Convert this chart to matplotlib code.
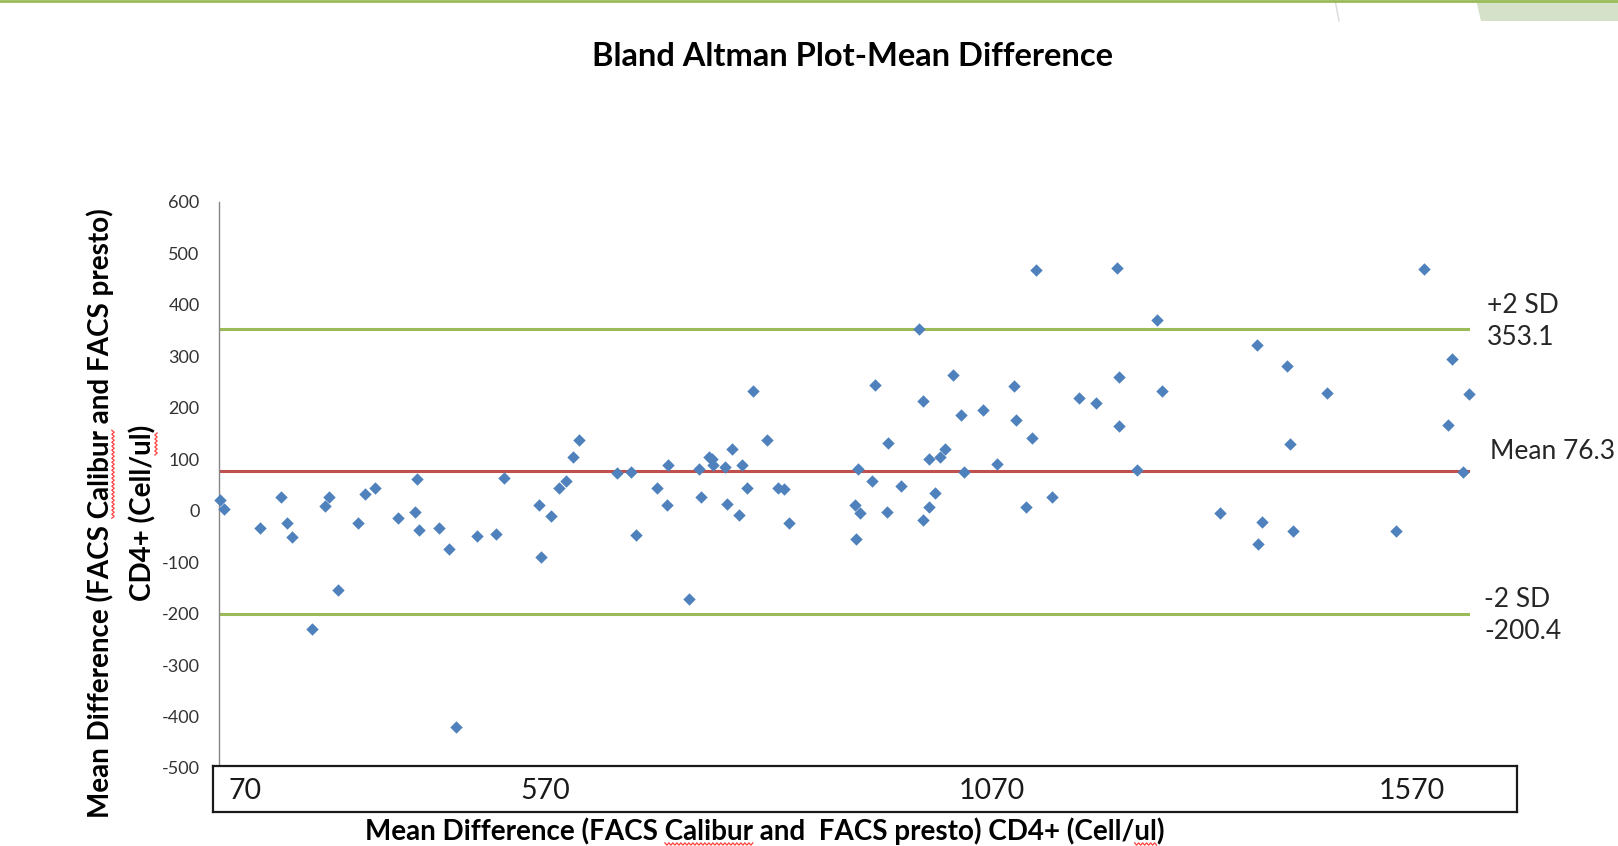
import numpy as np
import matplotlib
matplotlib.use("Agg")
import matplotlib.pyplot as plt
from matplotlib.patches import Polygon
from matplotlib.lines import Line2D

# mean CD4 (x) and difference (y)
x_mean = [61, 66, 111, 138, 145, 151, 176, 192, 197, 209, 234, 242, 255, 284, 305, 307, 310, 335, 348, 356,
          383, 406, 416, 460, 463,
          475, 485, 494, 502, 510, 558, 575, 581, 607, 620, 621, 648, 660, 662, 673, 676, 677, 693, 695, 701,
          710, 714, 720, 728, 745, 759, 766, 772,
          855, 861, 857, 859, 877, 880, 895, 897, 913, 935, 940, 940, 948, 948, 955, 961, 968, 978, 988, 992,
          1015, 1033, 1054, 1056, 1069, 1077, 1081, 1102, 1135, 1156, 1183, 1185, 1185, 1208, 1233, 1239,
          1312, 1358, 1364, 1359, 1395, 1399, 1403, 1445, 1532, 1567, 1602, 1596, 1623, 1615]
y_diff = [20, 4, -33, 26, -24, -52, -230, 10, 26, -155, -24, 33, 45, -14, -2, 61, -37, -33, -74, -421,
          -49, -46, 64, 11, -89,
          -11, 45, 58, 105, 138, 74, 76, -48, 45, 11, 89, -171, 82, 26, 105, 101, 88, 85, 14, 120,
          -9, 89, 45, 233, 138, 45, 42, -24,
          11, -5, -55, 82, 58, 245, -2, 132, 48, 354, 214, -18, 101, 7, 35, 104, 120, 264, 186, 76,
          195, 91, 242, 176, 7, 142, 467, 26, 220, 210, 471, 260, 164, 79, 370, 233,
          -5, 323, -21, -65, 282, 129, -40, 229, -40, 470, 295, 167, 226, 76]

limit_values = [353.1, 76.3, -200.4]
limit_names = [["+2 SD", "353.1"], ["Mean 76.3"], ["-2 SD", "-200.4"]]
limit_colors = ["#9BBB59", "#C0504D", "#9BBB59"]

box_labels = ["70", "570", "1070", "1570"]
y_ticks = list(range(-500, 601, 100))

title = "Bland Altman Plot-Mean Difference"
ylabel_lines = ["Mean Difference (FACS Calibur and FACS presto)", "CD4+ (Cell/ul)"]
xlabel = "Mean Difference (FACS Calibur and  FACS presto) CD4+ (Cell/ul)"

W, H = 1618, 846
plt.rcParams["font.family"] = ["Lato", "DejaVu Sans"]
plt.rcParams["axes.unicode_minus"] = False


def fx(x):
    return x / W


def fy(y):
    return 1 - y / H


fig = plt.figure(figsize=(W / 100, H / 100), dpi=100)
renderer = fig.canvas.get_renderer()


def width_px(s, **kw):
    t = fig.text(0, 0, s, **kw)
    w = t.get_window_extent(renderer).width
    t.remove()
    return w


def squiggle(start, length, across, vertical=False):
    # red spell-check wave under a word, pixel coords from top-left
    s = np.arange(0, length + 0.1, 2.0)
    wave = across + np.where(np.arange(len(s)) % 2 == 0, -1.2, 1.2)
    if vertical:
        xs, ys = wave, start - s
    else:
        xs, ys = start + s, wave
    fig.add_artist(Line2D(xs / W, 1 - ys / H, color="#FF4040", lw=0.9,
                          transform=fig.transFigure))


ax = fig.add_axes([fx(219), fy(768), (1470 - 219) / W, (768 - 202) / H])
ax.scatter(x_mean, y_diff, marker="D", s=40, color="#4F81BD", linewidths=0, zorder=3, clip_on=False)
for val, col in zip(limit_values, limit_colors):
    ax.axhline(val, color=col, lw=2.2, zorder=2)

ax.set_xlim(60, 1624)
ax.set_ylim(-500, 600)
ax.set_yticks(y_ticks)
ax.set_xticks([])
for side in ["top", "right", "bottom"]:
    ax.spines[side].set_visible(False)
ax.spines["left"].set_color("#868686")
ax.spines["left"].set_linewidth(1)
ax.tick_params(axis="y", length=0, pad=14, labelsize=13, labelcolor="#333333")

# labels for the limit lines, right of the plot
offsets = [[(17, 24), (17, -8)], [(20, 20)], [(14, 14), (14, -18)]]
for val, names, offs in zip(limit_values, limit_names, offsets):
    for name, (dx, dy) in zip(names, offs):
        ax.annotate(name, xy=(1, val), xycoords=("axes fraction", "data"),
                    xytext=(dx, dy), textcoords="offset pixels",
                    ha="left", va="center", fontsize=19, color="#262626",
                    annotation_clip=False)

# boxed x labels under the plot
ax_box = fig.add_axes([fx(213), fy(812), (1517 - 213) / W, (812 - 766) / H])
ax_box.set_xticks([])
ax_box.set_yticks([])
for sp in ax_box.spines.values():
    sp.set_linewidth(1.6)
    sp.set_color("#1a1a1a")
label_px = [245, 545, 992, 1412]
for lab, px in zip(box_labels, label_px):
    ax_box.text((px - 213) / (1517 - 213), 0.45, lab, ha="center", va="center",
                fontsize=20.5, color="#1a1a1a", transform=ax_box.transAxes)

fig.text(fx(852), fy(57), title, ha="center", va="center", fontsize=23.5, fontweight="bold")

lab_kw = dict(fontsize=20, fontweight="bold")
ylab_x = [100, 143]
ylab_y = 513
for line, cx in zip(ylabel_lines, ylab_x):
    fig.text(fx(cx), fy(ylab_y), line, rotation=90, ha="center", va="center", **lab_kw)

xlab_cx, xlab_cy = 765, 831
fig.text(fx(xlab_cx), fy(xlab_cy), xlabel, ha="center", va="center", **lab_kw)

# spell-check underlines under "Calibur" and "ul"
full_w = width_px(xlabel, **lab_kw)
for upto, word in [("Mean Difference (FACS Calibur", "Calibur"), (xlabel[:-1], "ul")]:
    end = xlab_cx - full_w / 2 + width_px(upto, **lab_kw)
    ww = width_px(word, **lab_kw)
    squiggle(end - ww, ww, xlab_cy + 13)
for line, cx, upto, word in [(ylabel_lines[0], ylab_x[0], "Mean Difference (FACS Calibur", "Calibur"),
                             (ylabel_lines[1], ylab_x[1], ylabel_lines[1][:-1], "ul")]:
    lw_ = width_px(line, **lab_kw)
    end = ylab_y + lw_ / 2 - width_px(upto, **lab_kw)
    ww = width_px(word, **lab_kw)
    squiggle(end + ww, ww, cx + 13, vertical=True)

# slide decoration at the top
fig.add_artist(Polygon([(fx(1476), fy(0)), (1, fy(0)), (1, fy(21)), (fx(1481), fy(21))],
                       closed=True, facecolor="#D6E1C9", edgecolor="none",
                       transform=fig.transFigure))
fig.add_artist(Line2D([fx(1335), fx(1339)], [fy(0), fy(21)], color="#DADADA", lw=1,
                      transform=fig.transFigure))
fig.add_artist(Line2D([0, 1], [fy(1), fy(1)], color="#9BBB59", lw=2, transform=fig.transFigure))

fig.savefig("out.png", dpi=100)
